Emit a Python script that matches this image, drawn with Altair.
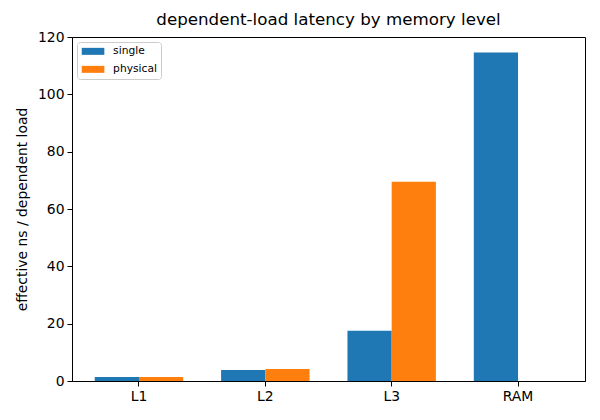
import altair as alt
import pandas as pd

levels = ["L1", "L2", "L3", "RAM"]
series = ["single", "physical"]
single = [1.4, 3.85, 17.5, 114.6]
physical = [1.4, 4.2, 69.5, None]
colors = ["#1f77b4", "#ff7f0e"]

rows = []
for i, lvl in enumerate(levels):
    rows.append({"level": lvl, "mode": "single", "ns": single[i]})
    rows.append({"level": lvl, "mode": "physical", "ns": physical[i]})
df = pd.DataFrame(rows)

font = "DejaVu Sans"

chart = (
    alt.Chart(df, title=alt.Title(
        "dependent-load latency by memory level",
        font=font, fontSize=16.7, fontWeight="normal", color="black",
        anchor="middle", offset=1,
    ))
    .mark_bar()
    .encode(
        x=alt.X("level:N", sort=levels, title=None,
                scale=alt.Scale(paddingInner=0.3, paddingOuter=0.18),
                axis=alt.Axis(labelAngle=0, bandPosition=0.5, labelPadding=3)),
        xOffset=alt.XOffset("mode:N", sort=series,
                            scale=alt.Scale(paddingInner=0, paddingOuter=0)),
        y=alt.Y("ns:Q", title="effective ns / dependent load",
                scale=alt.Scale(domain=[0, 120], nice=False),
                axis=alt.Axis(values=list(range(0, 121, 20)), grid=False,
                              titleX=-50, titleBaseline="middle", labelPadding=3)),
        color=alt.Color("mode:N", sort=series,
                        scale=alt.Scale(domain=series, range=colors),
                        legend=alt.Legend(
                            title=None, orient="none", legendX=5, legendY=5,
                            symbolType="M-2.26,-0.7L2.26,-0.7L2.26,0.7L-2.26,0.7Z",
                            symbolSize=100, symbolStrokeWidth=0, symbolOpacity=1,
                            symbolOffset=6.7, labelOffset=14.7,
                            labelFont=font, labelFontSize=10.7, labelColor="black",
                            padding=4, rowPadding=6,
                            strokeColor="#cccccc", fillColor="white", cornerRadius=3,
                        )),
    )
    .properties(
        width=513, height=344,
        autosize=alt.AutoSizeParams(type="none"),
        padding={"left": 64, "top": 29, "right": 7, "bottom": 31},
    )
    .configure_view(stroke="black", strokeWidth=1)
    .configure_axis(
        labelFont=font, titleFont=font, labelFontSize=13.9, titleFontSize=13.9,
        labelColor="black", titleColor="black", titleFontWeight="normal",
        domainColor="black", tickColor="black", tickSize=5, tickWidth=1,
    )
)

chart.save("out.html", embed_options={"renderer": "svg", "actions": False})
